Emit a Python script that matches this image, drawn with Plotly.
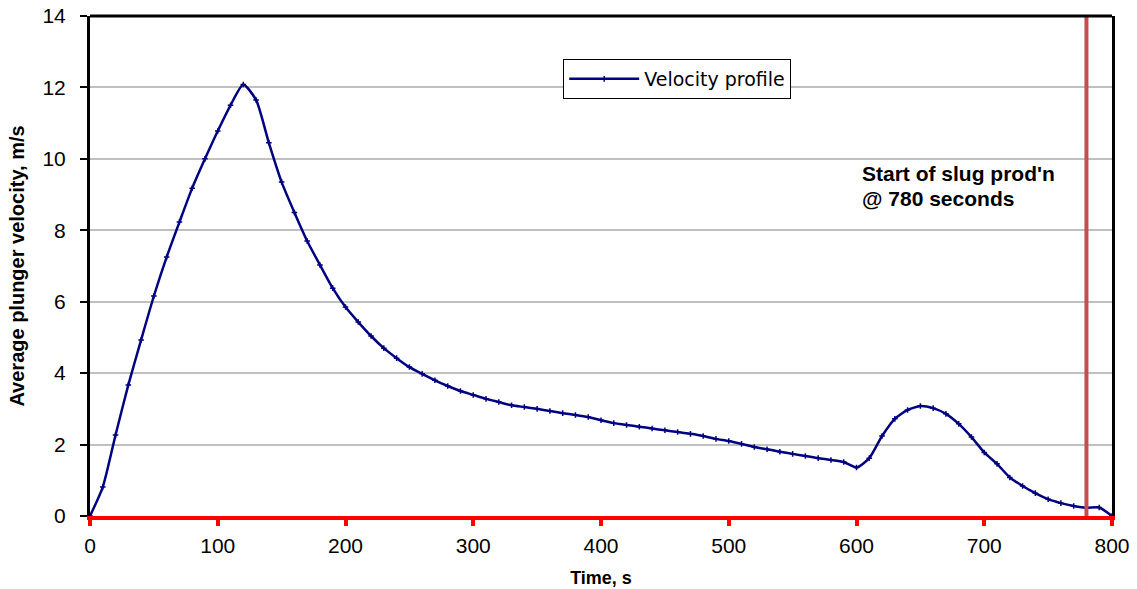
import plotly.graph_objects as go

time_s = [0, 10, 20, 30, 40, 50, 60, 70, 80, 90, 100, 110, 120, 130, 140, 150, 160, 170, 180, 190,
          200, 210, 220, 230, 240, 250, 260, 270, 280, 290, 300, 310, 320, 330, 340, 350, 360, 370,
          380, 390, 400, 410, 420, 430, 440, 450, 460, 470, 480, 490, 500, 510, 520, 530, 540, 550,
          560, 570, 580, 590, 600, 610, 620, 630, 640, 650, 660, 670, 680, 690, 700, 710, 720, 730,
          740, 750, 760, 770, 780, 790, 800]
velocity = [0.0, 0.81, 2.27, 3.67, 4.93, 6.16, 7.25, 8.23, 9.18, 10.0, 10.78, 11.5, 12.08, 11.65,
            10.45, 9.35, 8.5, 7.7, 7.03, 6.38, 5.85, 5.43, 5.04, 4.7, 4.42, 4.17, 3.98, 3.8, 3.64,
            3.5, 3.39, 3.28, 3.19, 3.1, 3.05, 3.0, 2.94, 2.88, 2.83, 2.77, 2.68, 2.6, 2.55, 2.5,
            2.45, 2.4, 2.35, 2.3, 2.24, 2.16, 2.1, 2.02, 1.93, 1.87, 1.8, 1.74, 1.68, 1.62, 1.57,
            1.51, 1.36, 1.62, 2.24, 2.72, 2.97, 3.08, 3.02, 2.86, 2.58, 2.21, 1.78, 1.46, 1.08,
            0.84, 0.64, 0.47, 0.36, 0.28, 0.23, 0.24, 0.0]

slug_start = 780
note_lines = ["Start of slug prod'n", "@ 780 seconds"]
note_x = 603
note_y = [9.58, 8.9]
x_ticks = [0, 100, 200, 300, 400, 500, 600, 700, 800]
y_ticks = [0, 2, 4, 6, 8, 10, 12, 14]

FONT = "Liberation Sans, Arial, sans-serif"

fig = go.Figure()
fig.add_trace(go.Scatter(
    x=time_s, y=velocity, mode="lines+markers", name="Velocity profile",
    line=dict(color="#000080", width=2.5, shape="spline", smoothing=0.6),
    marker=dict(symbol="cross-thin", size=4, color="#000080", line=dict(color="#000080", width=1.5)),
))

fig.add_shape(type="line", xref="x", yref="paper", x0=slug_start, x1=slug_start, y0=0, y1=1,
              line=dict(color="#C0504D", width=4))
fig.add_shape(type="line", xref="paper", yref="paper", x0=0, x1=1, y0=1, y1=1,
              line=dict(color="black", width=3))

for txt, yy in zip(note_lines, note_y):
    fig.add_annotation(x=note_x, y=yy, xref="x", yref="y", xanchor="left", yanchor="middle",
                       align="left", showarrow=False, text="<b>" + txt + "</b>",
                       font=dict(family=FONT, size=21, color="black"))

fig.update_layout(
    width=1137, height=589,
    margin=dict(l=90, r=25, t=16, b=73),
    paper_bgcolor="white", plot_bgcolor="white",
    font=dict(family=FONT, size=21, color="black"),
    showlegend=True,
    legend=dict(x=0.463, y=0.914, xanchor="left", yanchor="top",
                bordercolor="black", borderwidth=1, bgcolor="white", itemwidth=70,
                font=dict(family="DejaVu Sans, sans-serif", size=19, color="black")),
    xaxis=dict(range=[0, 800], tickvals=x_ticks, showgrid=False, zeroline=False, automargin=False,
               showline=True, linecolor="#FF0000", linewidth=4,
               ticks="outside", tickcolor="#FF0000", tickwidth=4, ticklen=6, ticklabelstandoff=2,
               ticklabeloverflow="allow",
               tickfont=dict(size=21, color="black"),
               title=dict(text="<b>Time, s</b>", font=dict(size=18), standoff=16)),
    yaxis=dict(range=[0, 14], tickvals=y_ticks, showgrid=True, gridcolor="#C0C0C0", gridwidth=1.5,
               zeroline=False, showline=True, linecolor="black", linewidth=3, mirror=True,
               automargin=False, ticklabeloverflow="allow",
               ticks="outside", tickcolor="black", tickwidth=2, ticklen=7, ticklabelstandoff=10,
               tickfont=dict(size=21, color="black"),
               title=dict(text="<b>Average plunger velocity, m/s</b>", font=dict(size=20), standoff=13)),
)

# remove the default 8px page margin so the figure fills the 1137x589 window exactly
fig.write_html("out.html", config={"displayModeBar": False},
               post_script="document.body.style.margin='0px';")
